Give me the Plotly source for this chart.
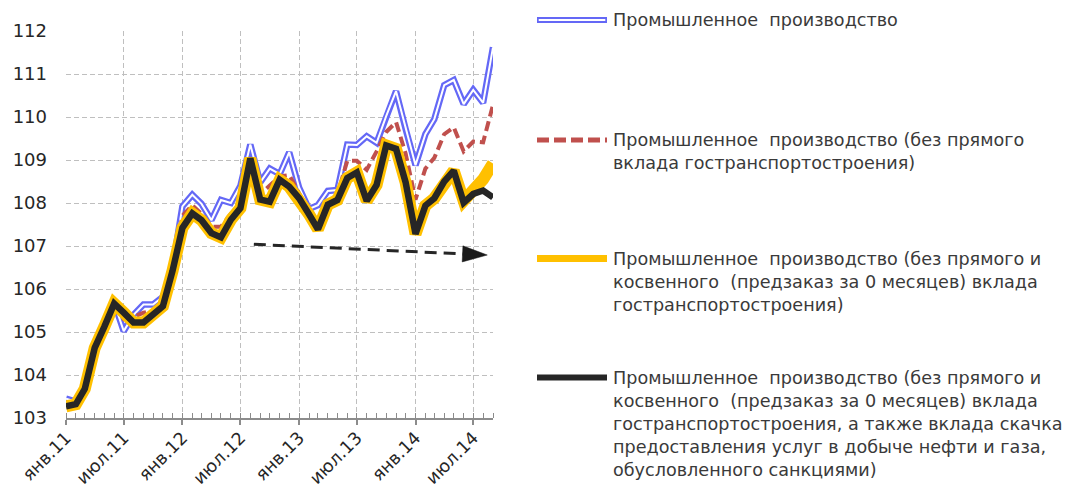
import pandas as pd
import plotly.graph_objects as go

# ---- data ----
months = pd.date_range("2011-01-01", periods=45, freq="MS")

total = [103.45, 103.38, 103.70, 104.65, 105.15, 105.68, 105.02, 105.40, 105.64, 105.64,
         105.82, 106.50, 107.92, 108.19, 107.98, 107.60, 108.07, 108.00, 108.40, 109.36,
         108.48, 108.80, 108.67, 109.18, 108.36, 107.86, 107.95, 108.28, 108.30, 109.36,
         109.35, 109.55, 109.40, 110.02, 110.60, 109.72, 108.88, 109.60, 109.95, 110.74,
         110.86, 110.30, 110.63, 110.33, 111.62]

no_direct = [103.30, 103.34, 103.69, 104.64, 105.13, 105.67, 105.30, 105.35, 105.45, 105.50,
             105.65, 106.45, 107.70, 107.95, 107.75, 107.45, 107.45, 107.75, 108.00, 109.10,
             108.20, 108.40, 108.62, 108.65, 108.20, 107.80, 107.45, 108.02, 108.20, 108.98,
             108.98, 108.77, 109.20, 109.65, 109.88, 109.15, 108.08, 108.80, 109.05, 109.60,
             109.76, 109.20, 109.43, 109.41, 110.28]

no_direct_indirect = [103.27, 103.32, 103.68, 104.63, 105.12, 105.66, 105.45, 105.22, 105.22, 105.42,
                      105.60, 106.42, 107.42, 107.76, 107.60, 107.30, 107.20, 107.61, 107.88, 109.04,
                      108.08, 108.03, 108.54, 108.38, 108.11, 107.74, 107.39, 107.96, 108.07, 108.58,
                      108.71, 108.05, 108.42, 109.34, 109.26, 108.48, 107.28, 107.94, 108.11, 108.50,
                      108.75, 108.05, 108.27, 108.55, 108.92]

no_sanctions = [103.27, 103.32, 103.68, 104.63, 105.12, 105.66, 105.45, 105.22, 105.22, 105.42,
                105.60, 106.42, 107.42, 107.76, 107.60, 107.30, 107.20, 107.61, 107.88, 109.04,
                108.08, 108.03, 108.54, 108.38, 108.11, 107.74, 107.39, 107.96, 108.07, 108.58,
                108.71, 108.05, 108.42, 109.34, 109.26, 108.48, 107.28, 107.94, 108.11, 108.50,
                108.75, 108.01, 108.21, 108.29, 108.13]

trend_x = ["2012-08-12", "2014-08-14"]
trend_y = [107.04, 106.79]

tick_dates = ["2011-01-01", "2011-07-01", "2012-01-01", "2012-07-01",
              "2013-01-01", "2013-07-01", "2014-01-01", "2014-07-01"]
tick_labels = ["янв.11", "июл.11", "янв.12", "июл.12", "янв.13", "июл.13", "янв.14", "июл.14"]

legend_texts = [
    "Промышленное  производство",
    "Промышленное  производство (без прямого<br>вклада гостранспортостроения)",
    "Промышленное  производство (без прямого и<br>косвенного  (предзаказ за 0 месяцев) вклада<br>гостранспортостроения)",
    "Промышленное  производство (без прямого и<br>косвенного  (предзаказ за 0 месяцев) вклада<br>гостранспортостроения, а также вклада скачка<br>предоставления услуг в добыче нефти и газа,<br>обусловленного санкциями)",
]

# ---- styles ----
BLUE = "#6468F6"
RED = "#C0504D"
YELLOW = "#FFC000"
BLACK = "#262626"
GRID = "#BFBFBF"
TEXT = "#3A3A3A"
FONT = "DejaVu Sans, Verdana, sans-serif"

W, H = 1066, 489
ML, MR, MT, MB = 66, 573, 31, 71
PW, PH = W - ML - MR, H - MT - MB


def px_x(p):
    return (p - ML) / PW


def px_y(p):
    return (H - MB - p) / PH


fig = go.Figure()
fig.add_trace(go.Scatter(x=months, y=total, mode="lines",
                         line=dict(color=BLUE, width=6.5), hoverinfo="skip"))
fig.add_trace(go.Scatter(x=months, y=total, mode="lines",
                         line=dict(color="white", width=2), hoverinfo="skip"))
fig.add_trace(go.Scatter(x=months, y=no_direct, mode="lines",
                         line=dict(color=RED, width=4, dash="10px,5px"), hoverinfo="skip"))
fig.add_trace(go.Scatter(x=months, y=no_direct_indirect, mode="lines",
                         line=dict(color=YELLOW, width=12), hoverinfo="skip"))
fig.add_trace(go.Scatter(x=months, y=no_sanctions, mode="lines",
                         line=dict(color=BLACK, width=6.5), hoverinfo="skip"))
fig.add_trace(go.Scatter(x=trend_x, y=trend_y, mode="lines+markers",
                         line=dict(color=BLACK, width=3, dash="12px,7px"),
                         marker=dict(symbol=["circle", "arrow"], size=[0, 26],
                                     angleref="previous", color="#1A1A1A", opacity=1,
                                     line=dict(width=0.5, color="#1A1A1A")),
                         opacity=1, cliponaxis=False, hoverinfo="skip"))

# ---- manual legend ----
sample_y = [20, 140, 258.5, 377.5]
text_top = [8, 128, 247, 366]
x0, x1 = px_x(537), px_x(607)
shapes = []
shapes.append(dict(type="line", xref="paper", yref="paper", x0=x0, x1=x1,
                   y0=px_y(sample_y[0]), y1=px_y(sample_y[0]), line=dict(color=BLUE, width=6)))
shapes.append(dict(type="line", xref="paper", yref="paper", x0=x0 + 0.004, x1=x1 - 0.004,
                   y0=px_y(sample_y[0]), y1=px_y(sample_y[0]), line=dict(color="white", width=2)))
shapes.append(dict(type="line", xref="paper", yref="paper", x0=x0, x1=x1,
                   y0=px_y(sample_y[1]), y1=px_y(sample_y[1]),
                   line=dict(color=RED, width=5, dash="12px,5px")))
shapes.append(dict(type="line", xref="paper", yref="paper", x0=x0, x1=x1,
                   y0=px_y(sample_y[2]), y1=px_y(sample_y[2]), line=dict(color=YELLOW, width=7)))
shapes.append(dict(type="line", xref="paper", yref="paper", x0=x0, x1=x1,
                   y0=px_y(sample_y[3]), y1=px_y(sample_y[3]), line=dict(color=BLACK, width=6)))

annotations = []
for txt, top in zip(legend_texts, text_top):
    annotations.append(dict(xref="paper", yref="paper", x=px_x(611), y=px_y(top),
                            xanchor="left", yanchor="top", align="left", showarrow=False,
                            text=txt, font=dict(family=FONT, size=17.6, color=TEXT)))

fig.update_layout(
    width=W, height=H,
    margin=dict(l=ML, r=MR, t=MT, b=MB, autoexpand=False),
    paper_bgcolor="white", plot_bgcolor="white",
    showlegend=False,
    shapes=shapes, annotations=annotations,
    font=dict(family=FONT, color=BLACK),
)
fig.update_xaxes(
    range=[months[0], months[-1]], automargin=False,
    tickvals=tick_dates, ticktext=tick_labels, tickangle=-45,
    tickfont=dict(family=FONT, size=17.5, color=BLACK),
    ticklabelstandoff=-4,
    showgrid=True, gridcolor=GRID, griddash="5px,3px", gridwidth=1,
    showline=True, linecolor="#8C8C8C", linewidth=1.5,
    ticks="outside", ticklen=5, tickcolor="#8C8C8C", tickwidth=1.5,
    minor=dict(ticks="inside", ticklen=5, dtick="M1", tick0="2011-01-01",
               tickcolor="#8C8C8C", tickwidth=1, showgrid=False),
    zeroline=False,
)
fig.update_yaxes(
    range=[103, 112], dtick=1, automargin=False,
    tickfont=dict(family=FONT, size=18, color=BLACK),
    showgrid=True, gridcolor=GRID, griddash="5px,3px", gridwidth=1,
    showline=False, ticks="", zeroline=False, ticklabelstandoff=18,
)

fig.write_html("out.html", config={"displayModeBar": False},
               post_script="document.body.style.margin='0';document.body.style.overflow='hidden';")
